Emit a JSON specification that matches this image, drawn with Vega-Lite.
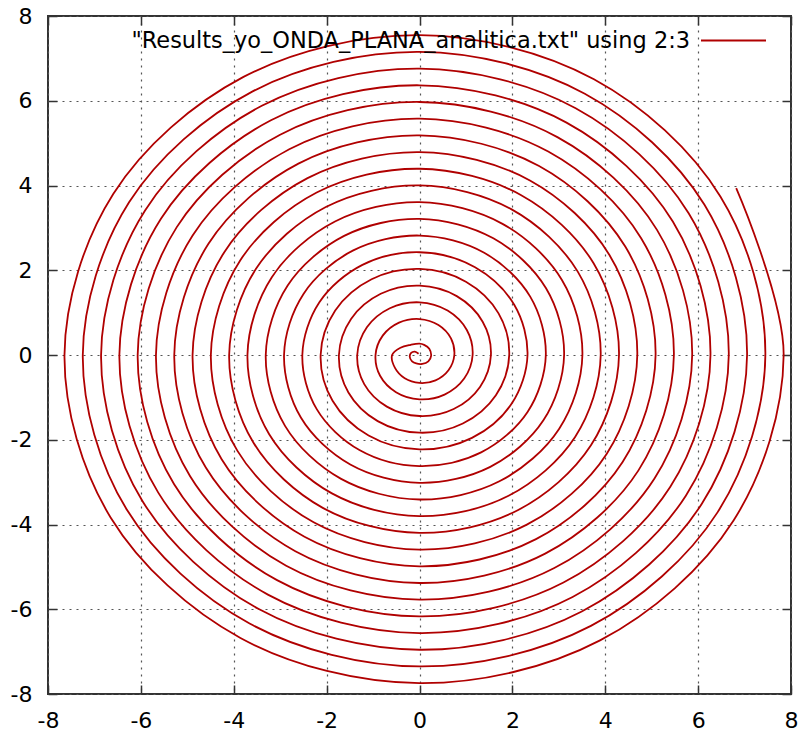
{
  "$schema": "https://vega.github.io/schema/vega-lite/v6.json",
  "width": 743,
  "height": 678,
  "autosize": {"type": "none"},
  "padding": {"left": 48, "top": 16, "right": 14, "bottom": 44},
  "background": "white",
  "config": {
    "view": {"stroke": "#333333", "strokeWidth": 2},
    "font": "DejaVu Sans"
  },
  "data": {
    "values": [
      {"x": -0.02, "y": 0.03}, {"x": -0.10, "y": 0.08}, {"x": -0.18, "y": 0.05}, {"x": -0.21, "y": -0.04},
      {"x": -0.16, "y": -0.15}, {"x": -0.07, "y": -0.20}, {"x": 0.06, "y": -0.21}, {"x": 0.19, "y": -0.15},
      {"x": 0.25, "y": -0.02}, {"x": 0.21, "y": 0.15}, {"x": 0.10, "y": 0.24}, {"x": 0.00, "y": 0.27},
      {"x": -0.19, "y": 0.24}, {"x": -0.41, "y": 0.17}, {"x": -0.59, "y": 0.00}, {"x": -0.528, "y": -0.305},
      {"x": -0.318, "y": -0.550}, {"x": 0, "y": -0.66}, {"x": 0.345, "y": -0.598}, {"x": 0.624, "y": -0.36},
      {"x": 0.75, "y": 0}, {"x": 0.678, "y": 0.391}, {"x": 0.408, "y": 0.707}, {"x": 0, "y": 0.849}, {"x": -0.441, "y": 0.763}, {"x": -0.792, "y": 0.457}, {"x": -0.947, "y": 0}, {"x": -0.849, "y": -0.49}, {"x": -0.506, "y": -0.877}, {"x": 0, "y": -1.046}, {"x": 0.539, "y": -0.934}, {"x": 0.962, "y": -0.556},
      {"x": 1.144, "y": 0}, {"x": 1.019, "y": 0.589}, {"x": 0.605, "y": 1.048}, {"x": 0, "y": 1.243}, {"x": -0.638, "y": 1.104}, {"x": -1.133, "y": 0.654}, {"x": -1.341, "y": 0}, {"x": -1.19, "y": -0.687}, {"x": -0.703, "y": -1.218}, {"x": 0, "y": -1.44}, {"x": 0.736, "y": -1.275}, {"x": 1.303, "y": -0.753},
      {"x": 1.538, "y": 0}, {"x": 1.36, "y": 0.786}, {"x": 0.802, "y": 1.389}, {"x": 0, "y": 1.637}, {"x": -0.835, "y": 1.445}, {"x": -1.474, "y": 0.851}, {"x": -1.735, "y": 0}, {"x": -1.531, "y": -0.884}, {"x": -0.9, "y": -1.56}, {"x": 0, "y": -1.834}, {"x": 0.933, "y": -1.616}, {"x": 1.645, "y": -0.95},
      {"x": 1.932, "y": 0}, {"x": 1.702, "y": 0.983}, {"x": 0.999, "y": 1.73}, {"x": 0, "y": 2.031}, {"x": -1.032, "y": 1.787}, {"x": -1.815, "y": 1.048}, {"x": -2.129, "y": 0}, {"x": -1.872, "y": -1.081}, {"x": -1.097, "y": -1.901}, {"x": 0, "y": -2.228}, {"x": 1.13, "y": -1.957}, {"x": 1.986, "y": -1.147},
      {"x": 2.326, "y": 0}, {"x": 2.043, "y": 1.18}, {"x": 1.196, "y": 2.071}, {"x": 0, "y": 2.425}, {"x": -1.229, "y": 2.128}, {"x": -2.156, "y": 1.245}, {"x": -2.523, "y": 0}, {"x": -2.213, "y": -1.278}, {"x": -1.294, "y": -2.242}, {"x": 0, "y": -2.622}, {"x": 1.327, "y": -2.298}, {"x": 2.327, "y": -1.344},
      {"x": 2.72, "y": 0}, {"x": 2.384, "y": 1.377}, {"x": 1.393, "y": 2.413}, {"x": 0, "y": 2.819}, {"x": -1.426, "y": 2.469}, {"x": -2.498, "y": 1.442}, {"x": -2.917, "y": 0}, {"x": -2.555, "y": -1.475}, {"x": -1.491, "y": -2.583}, {"x": 0, "y": -3.016}, {"x": 1.524, "y": -2.64}, {"x": 2.668, "y": -1.541},
      {"x": 3.114, "y": 0}, {"x": 2.725, "y": 1.574}, {"x": 1.59, "y": 2.754}, {"x": 0, "y": 3.213}, {"x": -1.623, "y": 2.81}, {"x": -2.839, "y": 1.639}, {"x": -3.311, "y": 0}, {"x": -2.896, "y": -1.672}, {"x": -1.688, "y": -2.924}, {"x": 0, "y": -3.41}, {"x": 1.721, "y": -2.981}, {"x": 3.009, "y": -1.738},
      {"x": 3.508, "y": 0}, {"x": 3.067, "y": 1.771}, {"x": 1.787, "y": 3.095}, {"x": 0, "y": 3.607}, {"x": -1.82, "y": 3.151}, {"x": -3.18, "y": 1.836}, {"x": -3.705, "y": 0}, {"x": -3.237, "y": -1.869}, {"x": -1.886, "y": -3.266}, {"x": 0, "y": -3.804}, {"x": 1.918, "y": -3.322}, {"x": 3.351, "y": -1.935},
      {"x": 3.902, "y": 0}, {"x": 3.408, "y": 1.968}, {"x": 1.984, "y": 3.436}, {"x": 0, "y": 4.001}, {"x": -2.017, "y": 3.493}, {"x": -3.521, "y": 2.033}, {"x": -4.099, "y": 0}, {"x": -3.578, "y": -2.066}, {"x": -2.083, "y": -3.607}, {"x": 0, "y": -4.198}, {"x": 2.115, "y": -3.663}, {"x": 3.692, "y": -2.132},
      {"x": 4.296, "y": 0}, {"x": 3.749, "y": 2.165}, {"x": 2.181, "y": 3.777}, {"x": 0, "y": 4.395}, {"x": -2.214, "y": 3.834}, {"x": -3.862, "y": 2.23}, {"x": -4.493, "y": 0}, {"x": -3.92, "y": -2.263}, {"x": -2.28, "y": -3.948}, {"x": 0, "y": -4.592}, {"x": 2.312, "y": -4.004}, {"x": 4.033, "y": -2.329},
      {"x": 4.69, "y": 0}, {"x": 4.09, "y": 2.362}, {"x": 2.378, "y": 4.119}, {"x": 0, "y": 4.789}, {"x": -2.411, "y": 4.175}, {"x": -4.204, "y": 2.427}, {"x": -4.887, "y": 0}, {"x": -4.261, "y": -2.46}, {"x": -2.477, "y": -4.289}, {"x": 0, "y": -4.986}, {"x": 2.509, "y": -4.346}, {"x": 4.374, "y": -2.526},
      {"x": 5.084, "y": 0}, {"x": 4.431, "y": 2.559}, {"x": 2.575, "y": 4.46}, {"x": 0, "y": 5.183}, {"x": -2.608, "y": 4.516}, {"x": -4.545, "y": 2.624}, {"x": -5.281, "y": 0}, {"x": -4.602, "y": -2.657}, {"x": -2.674, "y": -4.631}, {"x": 0, "y": -5.38}, {"x": 2.706, "y": -4.687}, {"x": 4.715, "y": -2.723},
      {"x": 5.478, "y": 0}, {"x": 4.773, "y": 2.756}, {"x": 2.772, "y": 4.801}, {"x": 0, "y": 5.577}, {"x": -2.805, "y": 4.857}, {"x": -4.886, "y": 2.821}, {"x": -5.675, "y": 0}, {"x": -4.943, "y": -2.854}, {"x": -2.871, "y": -4.972}, {"x": 0, "y": -5.774}, {"x": 2.903, "y": -5.028}, {"x": 5.057, "y": -2.92},
      {"x": 5.872, "y": 0}, {"x": 5.114, "y": 2.953}, {"x": 2.969, "y": 5.142}, {"x": 0, "y": 5.971}, {"x": -3.002, "y": 5.199}, {"x": -5.227, "y": 3.018}, {"x": -6.069, "y": 0}, {"x": -5.284, "y": -3.051}, {"x": -3.068, "y": -5.313}, {"x": 0, "y": -6.168}, {"x": 3.1, "y": -5.369}, {"x": 5.398, "y": -3.117},
      {"x": 6.266, "y": 0}, {"x": 5.455, "y": 3.15}, {"x": 3.166, "y": 5.484}, {"x": 0, "y": 6.365}, {"x": -3.199, "y": 5.54}, {"x": -5.568, "y": 3.215}, {"x": -6.463, "y": 0}, {"x": -5.626, "y": -3.248}, {"x": -3.265, "y": -5.654}, {"x": 0, "y": -6.562}, {"x": 3.297, "y": -5.71}, {"x": 5.739, "y": -3.314},
      {"x": 6.66, "y": 0}, {"x": 5.796, "y": 3.347}, {"x": 3.363, "y": 5.825}, {"x": 0, "y": 6.759}, {"x": -3.396, "y": 5.881}, {"x": -5.91, "y": 3.412}, {"x": -6.857, "y": 0}, {"x": -5.967, "y": -3.445}, {"x": -3.462, "y": -5.995}, {"x": 0, "y": -6.956}, {"x": 3.494, "y": -6.052}, {"x": 6.08, "y": -3.511},
      {"x": 7.054, "y": 0}, {"x": 6.137, "y": 3.544}, {"x": 3.56, "y": 6.166}, {"x": 0, "y": 7.153}, {"x": -3.593, "y": 6.222}, {"x": -6.251, "y": 3.609}, {"x": -7.251, "y": 0}, {"x": -6.308, "y": -3.642}, {"x": -3.659, "y": -6.337}, {"x": 0, "y": -7.35}, {"x": 3.691, "y": -6.393}, {"x": 6.421, "y": -3.708},
      {"x": 7.448, "y": 0}, {"x": 6.479, "y": 3.741}, {"x": 3.757, "y": 6.507}, {"x": 0, "y": 7.547}, {"x": -3.79, "y": 6.563}, {"x": -6.592, "y": 3.806}, {"x": -7.645, "y": 0}, {"x": -6.649, "y": -3.839}, {"x": -3.856, "y": -6.678}, {"x": 0, "y": -7.744}, {"x": 3.888, "y": -6.734}, {"x": 6.763, "y": -3.905},
      {"x": 7.842, "y": 0}, {"x": 6.82, "y": 3.938}
    ]
  },
  "layer": [
    {
      "mark": {"type": "line", "interpolate": "catmull-rom", "strokeWidth": 1.8, "clip": true},
      "encoding": {
        "x": {
          "field": "x", "type": "quantitative",
          "scale": {"domain": [-8, 8], "nice": false, "zero": false},
          "axis": {
            "orient": "bottom", "title": null, "values": [-8, -6, -4, -2, 0, 2, 4, 6, 8],
            "domain": false, "grid": true, "gridDash": [2, 5], "gridColor": "#555555", "gridWidth": 1.2,
            "ticks": true, "tickSize": -9, "tickColor": "#333333", "tickWidth": 1.5,
            "labelFont": "DejaVu Sans", "labelFontSize": 22, "labelColor": "#000000", "labelPadding": 25,
            "labelFlush": false, "labelOverlap": false,
            "labelExpr": "(datum.value < 0 ? '-' : '') + format(abs(datum.value), 'd')"
          }
        },
        "y": {
          "field": "y", "type": "quantitative",
          "scale": {"domain": [-8, 8], "nice": false, "zero": false},
          "axis": {
            "orient": "left", "title": null, "values": [-8, -6, -4, -2, 0, 2, 4, 6, 8],
            "domain": false, "grid": true, "gridDash": [2, 5], "gridColor": "#555555", "gridWidth": 1.2,
            "ticks": true, "tickSize": -9, "tickColor": "#333333", "tickWidth": 1.5,
            "labelFont": "DejaVu Sans", "labelFontSize": 22, "labelColor": "#000000", "labelPadding": 25,
            "labelFlush": false, "labelOverlap": false,
            "labelExpr": "(datum.value < 0 ? '-' : '') + format(abs(datum.value), 'd')"
          }
        },
        "order": {"value": null},
        "color": {
          "datum": "\"Results_yo_ONDA_PLANA_analitica.txt\" using 2:3",
          "type": "nominal",
          "scale": {"range": ["#b00000"]},
          "legend": {
            "orient": "none", "legendX": 652, "legendY": -9, "title": null, "padding": 0,
            "symbolType": "stroke", "symbolSize": 4225, "symbolStrokeWidth": 1.8,
            "labelFont": "DejaVu Sans", "labelFontSize": 22.45, "labelColor": "#000000",
            "labelAlign": "right", "labelOffset": -77, "labelLimit": 0
          }
        }
      }
    },
    {
      "mark": {"type": "line", "opacity": 0},
      "encoding": {
        "x": {
          "field": "x", "type": "quantitative",
          "axis": {"orient": "top", "title": null, "values": [-8, -6, -4, -2, 0, 2, 4, 6, 8], "labels": false, "domain": false, "grid": false, "tickSize": -9, "tickColor": "#333333", "tickWidth": 1.5}
        },
        "y": {
          "field": "y", "type": "quantitative",
          "axis": {"orient": "right", "title": null, "values": [-8, -6, -4, -2, 0, 2, 4, 6, 8], "labels": false, "domain": false, "grid": false, "tickSize": -9, "tickColor": "#333333", "tickWidth": 1.5}
        },
        "order": {"value": null}
      }
    }
  ],
  "resolve": {"axis": {"x": "independent", "y": "independent"}}
}
